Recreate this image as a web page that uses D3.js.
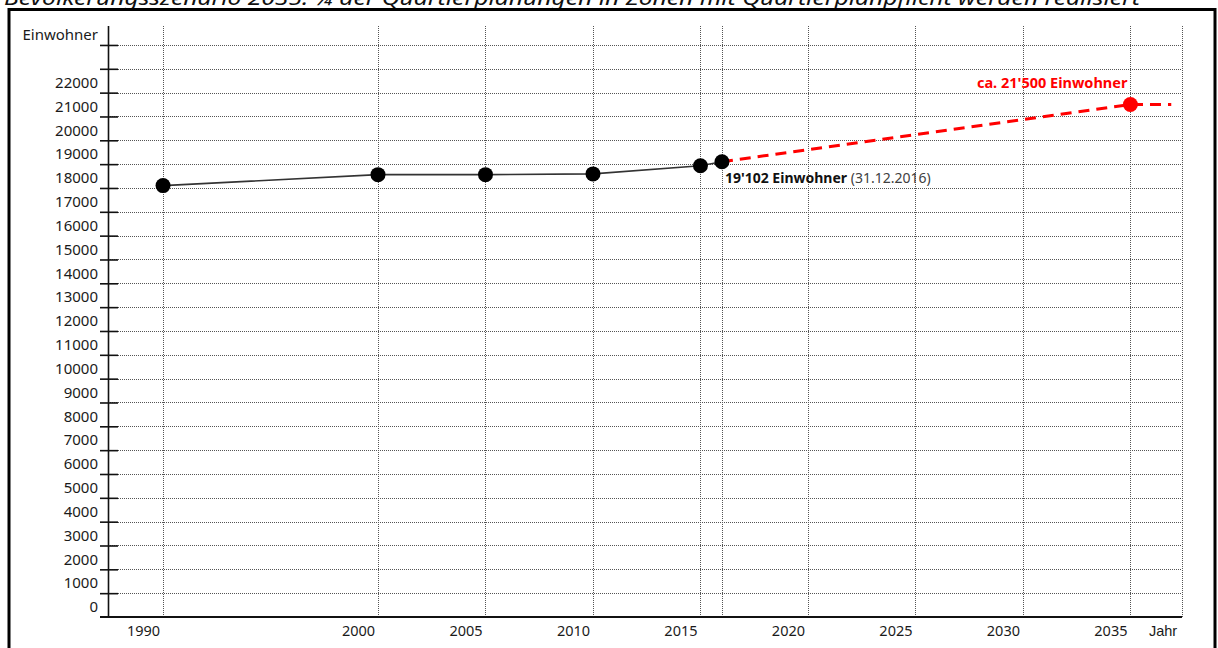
<!DOCTYPE html>
<html lang="de">
<head>
<meta charset="utf-8">
<title>Bevölkerungsszenario 2035</title>
<script src="https://cdn.jsdelivr.net/npm/d3@7/dist/d3.min.js"></script>
<style>
  html, body { margin: 0; padding: 0; background: #fff; }
  svg { display: block; font-family: "Noto Sans", "Open Sans", sans-serif; }
</style>
</head>
<body>
<svg id="chart" width="1218" height="648"></svg>
<script>
// Einwohnerentwicklung (Bestand)
const years = [1990, 2000, 2005, 2010, 2015, 2016];
const population = [18100, 18560, 18560, 18590, 18930, 19102];

// Szenario bis 2035
const projYears = [2016, 2035, 2036.9];
const projPopulation = [19102, 21500, 21500];

// Achsenbeschriftungen
const yTicks = [0, 1000, 2000, 3000, 4000, 5000, 6000, 7000, 8000, 9000, 10000, 11000,
  12000, 13000, 14000, 15000, 16000, 17000, 18000, 19000, 20000, 21000, 22000, 23000, 24000];
const yLabels = ["0", "1000", "2000", "3000", "4000", "5000", "6000", "7000", "8000", "9000",
  "10000", "11000", "12000", "13000", "14000", "15000", "16000", "17000", "18000", "19000",
  "20000", "21000", "22000", "", "Einwohner"];
const xTicks = [1990, 2000, 2005, 2010, 2015, 2016, 2020, 2025, 2030, 2035];
const xLabels = ["1990", "2000", "2005", "2010", "2015", "", "2020", "2025", "2030", "2035"];
const xUnit = "Jahr";

const title = "Bevölkerungsszenario 2035: ¼ der Quartierplanungen in Zonen mit Quartierplanpflicht werden realisiert";
const currentLabelBold = "19'102 Einwohner";
const currentLabelDate = " (31.12.2016)";
const targetLabel = "ca. 21'500 Einwohner";

const svg = d3.select("#chart");

const x = d3.scaleLinear().domain([1987.44, 2037.4]).range([108, 1182]);
const y = d3.scaleLinear().domain([0, 24800]).range([617, 25.9]);
const plotTop = y.range()[1];
const plotBottom = y.range()[0];
const [plotLeft, plotRight] = x.range();

// Titel (oben angeschnitten) und Rahmen
svg.append("text")
  .attr("x", 4).attr("y", 4.5)
  .attr("font-size", 20).attr("font-style", "italic")
  .attr("fill", "#111")
  .attr("textLength", 1136).attr("lengthAdjust", "spacingAndGlyphs")
  .text(title);

svg.append("rect")
  .attr("x", 9).attr("y", 9.5).attr("width", 1206).attr("height", 660)
  .attr("fill", "none").attr("stroke", "#000").attr("stroke-width", 3);

// Gitterlinien (gepunktet)
const grid = svg.append("g").attr("stroke", "#555").attr("stroke-width", 1)
  .attr("stroke-dasharray", "1,1").attr("shape-rendering", "crispEdges");

grid.selectAll("line.h").data(yTicks.filter(d => d > 0)).join("line")
  .attr("class", "h")
  .attr("x1", plotLeft).attr("x2", plotRight)
  .attr("y1", d => Math.round(y(d)) + 0.5).attr("y2", d => Math.round(y(d)) + 0.5);

grid.selectAll("line.v").data(xTicks.concat([x.domain()[1]])).join("line")
  .attr("class", "v")
  .attr("x1", d => Math.round(x(d)) + 0.5).attr("x2", d => Math.round(x(d)) + 0.5)
  .attr("y1", plotTop).attr("y2", plotBottom);

// Y-Achse
const yAxis = d3.axisLeft(y)
  .tickValues(yTicks)
  .tickFormat((d, i) => yLabels[i])
  .tickSizeInner(8).tickSizeOuter(0).tickPadding(3);

const gy = svg.append("g")
  .attr("transform", `translate(${plotLeft},0)`)
  .call(yAxis);
gy.select(".domain").attr("stroke", "#111").attr("stroke-width", 1.6)
  .attr("d", `M0.5,${plotTop}V${plotBottom}`);
gy.selectAll(".tick line").attr("x1", 10).attr("x2", -8)
  .attr("stroke", "#111").attr("stroke-width", 1.6);
gy.selectAll(".tick").filter(d => d === 0).select("line").remove();
gy.selectAll(".tick text")
  .attr("x", -10).attr("y", -10)
  .attr("font-size", 15).attr("font-family", "'Noto Sans', sans-serif")
  .attr("fill", "#1a1a1a");

// X-Achse
const xAxis = d3.axisBottom(x)
  .tickValues(xTicks)
  .tickFormat((d, i) => xLabels[i])
  .tickSize(0).tickPadding(9);

const gx = svg.append("g")
  .attr("transform", `translate(0,${plotBottom})`)
  .call(xAxis);
gx.select(".domain").attr("stroke", "#111").attr("stroke-width", 2)
  .attr("d", `M${plotLeft - 8},0H${plotRight}`);
gx.selectAll(".tick text")
  .attr("x", -20)
  .attr("font-size", 14.5).attr("font-family", "'Noto Sans', sans-serif")
  .attr("fill", "#1a1a1a");

gx.append("text")
  .attr("x", plotRight - 19).attr("y", 9).attr("dy", "0.71em")
  .attr("text-anchor", "middle")
  .attr("font-size", 14.5).attr("fill", "#1a1a1a")
  .text(xUnit);

// Szenario-Linie (rot, gestrichelt)
const projData = projYears.map((yr, i) => ({ year: yr, value: projPopulation[i] }));
svg.append("path")
  .datum(projData)
  .attr("fill", "none").attr("stroke", "#ff0000").attr("stroke-width", 3)
  .attr("stroke-dasharray", "11,7")
  .attr("d", d3.line().x(d => x(d.year)).y(d => y(d.value)));

// Bestandslinie
const histData = years.map((yr, i) => ({ year: yr, value: population[i] }));
svg.append("path")
  .datum(histData)
  .attr("fill", "none").attr("stroke", "#333").attr("stroke-width", 1.6)
  .attr("d", d3.line().x(d => x(d.year)).y(d => y(d.value)));

svg.selectAll("circle.hist").data(histData).join("circle")
  .attr("class", "hist")
  .attr("cx", d => x(d.year)).attr("cy", d => y(d.value)).attr("r", 7.5)
  .attr("fill", "#000");

svg.append("circle")
  .attr("cx", x(projData[1].year)).attr("cy", y(projData[1].value)).attr("r", 7.5)
  .attr("fill", "#ff0000");

// Beschriftungen
const last = histData[histData.length - 1];
const lbl = svg.append("text")
  .attr("x", x(last.year) + 3).attr("y", y(last.value) + 21.5)
  .attr("font-size", 14);
lbl.append("tspan").attr("font-weight", "bold").attr("fill", "#111").text(currentLabelBold);
lbl.append("tspan").attr("fill", "#404040").text(currentLabelDate);

svg.append("text")
  .attr("x", x(projData[1].year) - 3).attr("y", y(projData[1].value) - 17)
  .attr("text-anchor", "end")
  .attr("font-size", 14.5).attr("font-weight", "bold").attr("fill", "#ff0000")
  .text(targetLabel);
</script>
</body>
</html>
